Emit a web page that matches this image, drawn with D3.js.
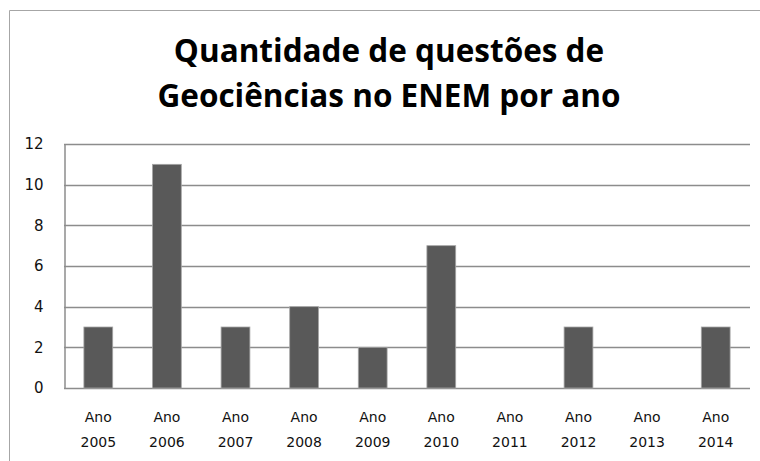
<!DOCTYPE html>
<html>
<head>
<meta charset="utf-8">
<script src="https://cdn.jsdelivr.net/npm/d3@7"></script>
<style>
    body { margin: 0; background: #fff; }
    svg text { font-family: "DejaVu Sans", sans-serif; }
</style>
</head>
<body>
<div id="chart"></div>
<script>
    var categories = ["2005", "2006", "2007", "2008", "2009", "2010", "2011", "2012", "2013", "2014"];
    var values = [3, 11, 3, 4, 2, 7, 0, 3, 0, 3];
    var yTicks = [0, 2, 4, 6, 8, 10, 12];
    var titleLines = ["Quantidade de questões de", "Geociências no ENEM por ano"];

    var width = 760;
    var height = 461;
    var margin = {top: 144, right: 10, bottom: 73, left: 64};

    var svg = d3.select("#chart")
        .append("svg")
        .attr("width", width)
        .attr("height", height);

    // outer chart frame (only top and left edges are visible)
    svg.append("path")
        .attr("d", "M9.5," + height + "V10.5H" + width)
        .attr("fill", "none")
        .attr("stroke", "#a6a6a6")
        .attr("stroke-width", 1);

    svg.selectAll(".title")
        .data(titleLines)
        .enter()
        .append("text")
        .attr("class", "title")
        .attr("x", 389)
        .attr("y", function (d, i) { return 62 + i * 45; })
        .attr("text-anchor", "middle")
        .style("font-family", "'Open Sans', sans-serif")
        .style("font-size", "31.5px")
        .style("font-weight", "bold")
        .style("fill", "#000")
        .text(function (d) { return d; });

    var x = d3.scaleBand()
        .domain(categories)
        .range([margin.left, width - margin.right])
        .paddingInner(0.58)
        .paddingOuter(0.29);

    var y = d3.scaleLinear()
        .domain([0, 12])
        .range([height - margin.bottom, margin.top]);

    // gridlines
    svg.append("g")
        .selectAll("line")
        .data(yTicks)
        .enter()
        .append("line")
        .attr("x1", margin.left)
        .attr("x2", width - margin.right)
        .attr("y1", function (d) { return Math.round(y(d)) + 0.5; })
        .attr("y2", function (d) { return Math.round(y(d)) + 0.5; })
        .style("stroke", "#8c8c8c")
        .style("stroke-width", 1.5);

    // y axis
    var yAxis = svg.append("g")
        .attr("transform", "translate(" + (margin.left + 0.5) + ",0)")
        .call(d3.axisLeft(y).tickValues(yTicks).tickSize(0).tickPadding(21));
    yAxis.select(".domain").style("stroke", "#8c8c8c").style("stroke-width", 1.5);
    yAxis.selectAll("text")
        .style("font-size", "15px")
        .style("fill", "#111")
        .attr("font-family", null);

    // bars (zero values draw nothing)
    svg.append("g")
        .selectAll("rect")
        .data(categories)
        .enter()
        .append("rect")
        .attr("x", function (d) { return x(d); })
        .attr("y", function (d, i) { return y(values[i]); })
        .attr("width", x.bandwidth())
        .attr("height", function (d, i) { return y(0) - y(values[i]); })
        .style("display", function (d, i) { return values[i] > 0 ? null : "none"; })
        .style("fill", "#595959")
        .style("stroke", "#a6a6a6")
        .style("stroke-width", 0.8);

    // x labels
    var xl = svg.append("g")
        .selectAll("text")
        .data(categories)
        .enter()
        .append("text")
        .attr("text-anchor", "middle")
        .style("font-size", "14px")
        .style("fill", "#111");
    xl.append("tspan")
        .attr("x", function (d) { return x(d) + x.bandwidth() / 2; })
        .attr("y", 422)
        .text("Ano");
    xl.append("tspan")
        .attr("x", function (d) { return x(d) + x.bandwidth() / 2; })
        .attr("y", 447)
        .text(function (d) { return d; });
</script>
</body>
</html>
